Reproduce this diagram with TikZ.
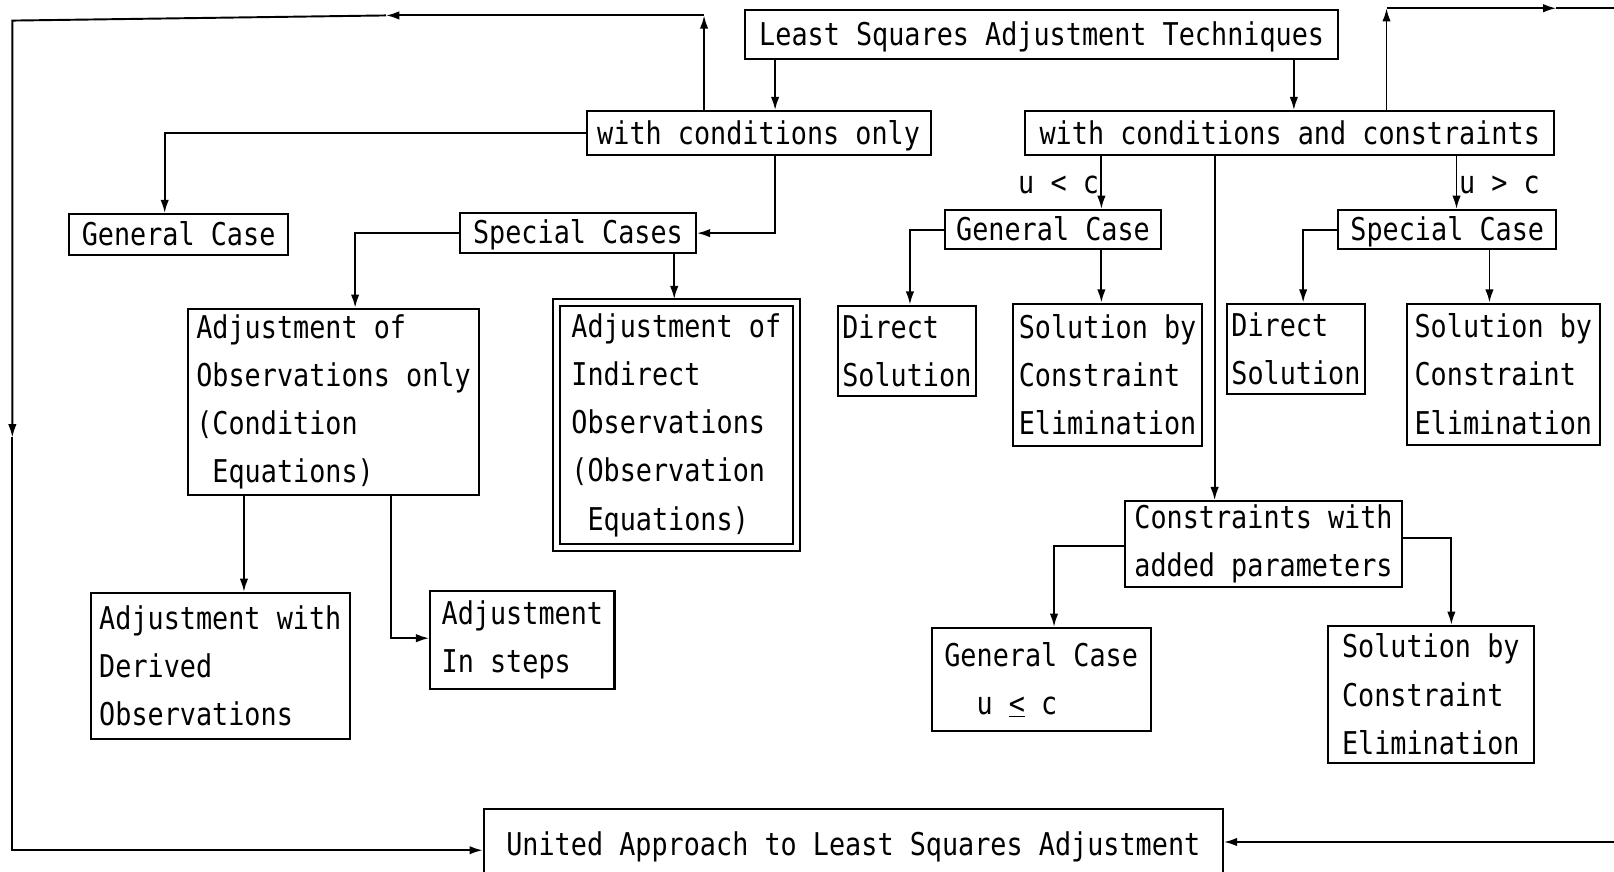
\documentclass[tikz,border=0pt]{standalone}
\usepackage{fontspec}
\setmonofont[FakeStretch=0.855]{DejaVu Sans Mono}
\usetikzlibrary{arrows.meta}

% box: name, left, top, right, bottom, text
\newcommand\bx[7][]{%
  \node[box,#1,minimum width={(#5-#3)*0.03cm},minimum height={(#6-#4)*0.03cm}]
    (#2) at ({(#3+#5)/2},{(#4+#6)/2}) {#7};}

\begin{document}
\begin{tikzpicture}[x=0.03cm, y=-0.03cm,
  box/.style={draw, line width=1.7pt, inner sep=1pt, align=left,
    font=\ttfamily\fontsize{26}{40}\selectfont},
  oneline/.style={text height=18pt, text depth=0pt},
  lbl/.style={inner sep=1pt, text height=18pt, text depth=0pt,
    font=\ttfamily\fontsize{26}{40}\selectfont},
  link/.style={line width=1.6pt, -{Latex[length=11pt,width=7pt]}},
  plain/.style={line width=1.6pt}]
\useasboundingbox (0,0) rectangle (1568,847);
\clip (0,0) rectangle (1568,847);

% boxes
\bx[oneline]{lsat}{724}{10}{1300}{57}{Least Squares Adjustment Techniques}
\bx[oneline]{wco}{570}{108}{904}{151}{with conditions only}
\bx[oneline]{wcc}{996}{108}{1510}{151}{with conditions and constraints}
\bx[oneline]{gcL}{67}{208}{280}{248}{General Case}
\bx[oneline]{sc}{447}{207}{676}{246}{Special Cases}
\bx{obs}{183}{300}{465}{481}{Adjustment of\\Observations only\\(Condition\\\phantom{x}Equations)}
\bx[double, double distance=4.2pt]{ind}{540.5}{294}{773.5}{532}{Adjustment of\\Indirect\\Observations\\(Observation\\\phantom{x}Equations)}
\bx{der}{88}{576}{340}{718}{Adjustment with\\Derived\\Observations}
\bx{steps}{418}{574}{597}{669}{Adjustment\\In steps}
\bx[oneline]{gc2}{918}{204}{1128}{242}{General Case}
\bx[oneline]{spc}{1300}{204}{1512}{242}{Special Case}
\bx{ds1}{814}{297}{948}{385}{Direct\\Solution}
\bx{sb1}{984}{295}{1168}{433}{Solution by\\Constraint\\Elimination}
\bx{ds2}{1192}{295}{1326}{383}{Direct\\Solution}
\bx{sb2}{1367}{295}{1554}{432}{Solution by\\Constraint\\Elimination}
\bx{cap}{1093}{487}{1362}{570}{Constraints with\\added parameters}
\bx{gcu}{905}{610}{1118}{710}{General Case\\\phantom{xx}u \underline{<} c}
\bx{sb3}{1290}{608}{1490}{741}{Solution by\\Constraint\\Elimination}
\bx[oneline]{united}{470}{786}{1188}{856}{United Approach to Least Squares Adjustment}

% branch positions and bends
\coordinate (k160) at (160,0);
\coordinate (k237) at (237,0);
\coordinate (k345) at (345,0);
\coordinate (k655) at (655,0);
\coordinate (k753) at (753,0);
\coordinate (k884) at (884,0);
\coordinate (k1070) at (1070,0);
\coordinate (k1180) at (1180,0);
\coordinate (k1257) at (1257,0);
\coordinate (k1266) at (1266,0);
\coordinate (k1415) at (1415,0);
\coordinate (k1447) at (1447,0);
\coordinate (k380) at (380,620);
\coordinate (k1024) at (1024,530);
\coordinate (k1410) at (1410,523);

% outer loops
\coordinate (tlA) at (684,15);
\coordinate (tlM) at (375,15);
\coordinate (tlC) at (12,20);
\coordinate (lM) at (12,425);
\coordinate (blC) at (12,826);
\coordinate (trA) at (1347,8);
\coordinate (trM) at (1512,8);
\coordinate (trE) at (1568,8);
\coordinate (brE) at (1568,818);

% connectors
\draw[link] (lsat.south -| k753) -- (wco.north -| k753);
\draw[link] (lsat.south -| k1257) -- (wcc.north -| k1257);

\draw[link] (wco.north -| tlA) -- (tlA);
\draw[link] (tlA) -- (tlM);
\draw[link] (tlM) -- (tlC) -- (lM);
\draw[link] (lM) -- (blC) -- (blC -| united.west);

\draw[link] (wcc.north -| trA) -- (trA);
\draw[link] (trA) -- (trM);
\draw[plain] (trM) -- (trE);
\draw[link] (brE) -- (brE -| united.east);

\draw[link] (wco.west) -- (wco.west -| k160) -- (gcL.north -| k160);
\draw[link] (wco.south -| k753) -- (sc.east -| k753) -- (sc.east);
\draw[link] (sc.west) -- (sc.west -| k345) -- (obs.north -| k345);
\draw[link, shorten >=2pt] (sc.south -| k655) -- (ind.north -| k655);
\draw[link] (obs.south -| k237) -- (der.north -| k237);
\draw[link] (obs.south -| k380) -- (k380) -- (k380 -| steps.west);

\draw[link] (wcc.south -| k1070) -- (gc2.north -| k1070);
\node[lbl, anchor=east] (ult) at (1069,177) {u < c};
\draw[link] (wcc.south -| k1415) -- (spc.north -| k1415);
\node[lbl, anchor=west] (ugt) at (1416,177) {u > c};
\draw[link] (wcc.south -| k1180) -- (cap.north -| k1180);

\draw[link] (gc2.west) -- (gc2.west -| k884) -- (ds1.north -| k884);
\draw[link] (gc2.south -| k1070) -- (sb1.north -| k1070);
\draw[link] (spc.west) -- (spc.west -| k1266) -- (ds2.north -| k1266);
\draw[link] (spc.south -| k1447) -- (sb2.north -| k1447);

\draw[link] (k1024 -| cap.west) -- (k1024) -- (gcu.north -| k1024);
\draw[link] (k1410 -| cap.east) -- (k1410) -- (sb3.north -| k1410);
\end{tikzpicture}
\end{document}
